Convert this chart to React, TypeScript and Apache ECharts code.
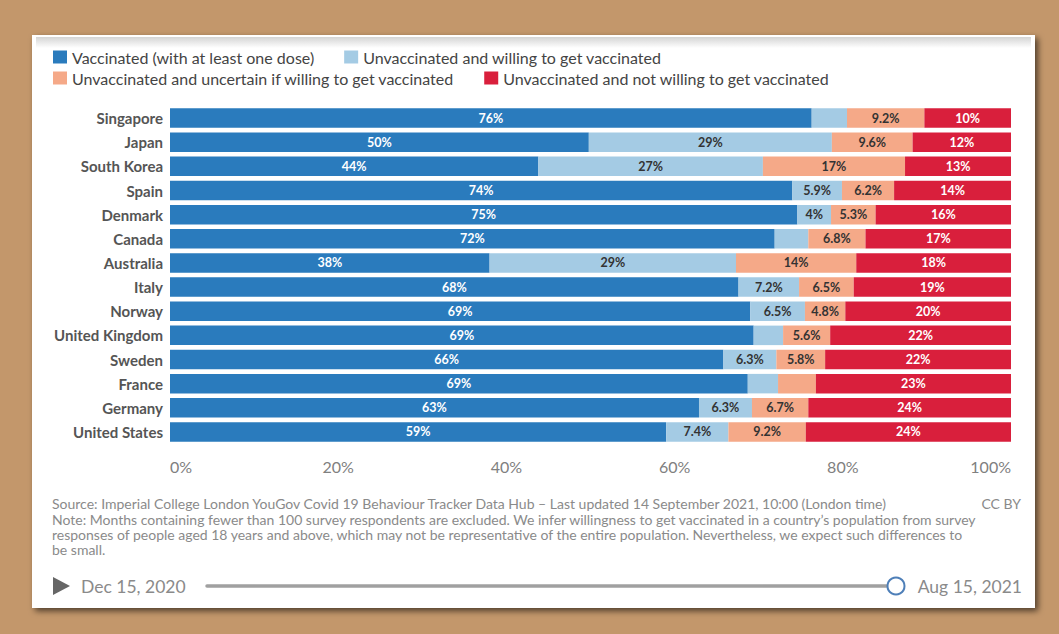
import React, { useEffect, useRef } from "react";
import * as echarts from "echarts";

const countries = [
  "Singapore", "Japan", "South Korea", "Spain", "Denmark", "Canada", "Australia",
  "Italy", "Norway", "United Kingdom", "Sweden", "France", "Germany", "United States",
];
const seriesNames = [
  "Vaccinated (with at least one dose)",
  "Unvaccinated and willing to get vaccinated",
  "Unvaccinated and uncertain if willing to get vaccinated",
  "Unvaccinated and not willing to get vaccinated",
];
const vaccinated = [76.3, 49.8, 43.8, 74.0, 74.6, 71.9, 38.0, 67.6, 69.0, 69.4, 65.8, 68.7, 62.9, 59.0];
const willing = [4.2, 28.9, 26.7, 5.9, 4.0, 4.0, 29.3, 7.2, 6.5, 3.5, 6.3, 3.6, 6.3, 7.4];
const uncertain = [9.2, 9.6, 16.9, 6.2, 5.3, 6.8, 14.3, 6.5, 4.8, 5.6, 5.8, 4.5, 6.7, 9.2];
const notWilling = [10.3, 11.7, 12.6, 13.9, 16.1, 17.3, 18.4, 18.7, 19.7, 21.5, 22.1, 23.2, 24.1, 24.4];
const xTicks = [0, 20, 40, 60, 80, 100];
// labels not drawn in the reference (series index : country)
const hiddenLabels = ["1:Singapore", "1:Canada", "1:United Kingdom", "1:France", "2:France"];

const sourceText =
  "Source: Imperial College London YouGov Covid 19 Behaviour Tracker Data Hub \u2013 Last updated 14 September 2021, 10:00 (London time)";
const noteLines = [
  "Note: Months containing fewer than 100 survey respondents are excluded. We infer willingness to get vaccinated in a country\u2019s population from survey",
  "responses of people aged 18 years and above, which may not be representative of the entire population. Nevertheless, we expect such differences to",
  "be small.",
];
const startDate = "Dec 15, 2020";
const endDate = "Aug 15, 2021";

const colors = ["#2a7bbd", "#a4cbe4", "#f5a988", "#d91f3c"];
const labelColors = ["#ffffff", "#333333", "#333333", "#ffffff"];

const FONT = "Lato, 'Noto Sans', sans-serif";

function fmt(v: number): string {
  if (v >= 9.95) return Math.round(v) + "%";
  return Math.round(v * 10) / 10 + "%";
}

export default function App() {
  const ref = useRef<HTMLDivElement>(null);
  useEffect(() => {
    document.body.style.margin = "0";
    if (!ref.current) return;
    const chart = echarts.init(ref.current, null, { renderer: "svg" });
    const all = [vaccinated, willing, uncertain, notWilling];
    const series = all.map((arr, si) => ({
      name: seriesNames[si],
      type: "bar",
      stack: "total",
      barWidth: 19.5,
      itemStyle: { color: colors[si] },
      label: {
        show: true,
        position: "inside",
        color: labelColors[si],
        fontFamily: FONT,
        fontSize: 12.5,
        fontWeight: "bold",
        formatter: (p: any) => fmt(p.value),
      },
      data: arr.map((v, i) =>
        hiddenLabels.includes(si + ":" + countries[i])
          ? { value: v, label: { show: false } }
          : v
      ),
    }));

    const legendCommon = {
      icon: "rect",
      itemWidth: 14,
      itemHeight: 13,
      itemGap: 30,
      padding: 0,
      textStyle: { fontFamily: FONT, fontSize: 16, color: "#444" },
      selectedMode: false,
    };

    chart.setOption({
      animation: false,
      backgroundColor: "#c3976b",
      color: colors,
      graphic: [
        {
          type: "rect",
          z: -10,
          shape: { x: 32, y: 35, width: 1003, height: 573 },
          style: {
            fill: "#ffffff",
            shadowBlur: 6,
            shadowOffsetX: 3,
            shadowOffsetY: 3,
            shadowColor: "rgba(0,0,0,0.6)",
          },
        },
        {
          type: "rect",
          z: -9,
          shape: { x: 36, y: 37, width: 995, height: 11 },
          style: {
            fill: new echarts.graphic.LinearGradient(0, 0, 0, 1, [
              { offset: 0, color: "#d4d4d4" },
              { offset: 1, color: "#ffffff" },
            ]),
          },
        },
        {
          type: "text",
          x: 52,
          y: 503,
          style: { text: sourceText, font: `14px ${FONT}`, fill: "#8a8a8a", verticalAlign: "middle" },
        },
        {
          type: "text",
          x: 1021,
          y: 503,
          style: { text: "CC BY", font: `14px ${FONT}`, fill: "#8a8a8a", align: "right", verticalAlign: "middle" },
        },
        ...noteLines.map((t, i) => ({
          type: "text",
          x: 52,
          y: 519 + i * 15,
          style: { text: t, font: `14px ${FONT}`, fill: "#8a8a8a", verticalAlign: "middle" },
        })),
        {
          type: "polygon",
          shape: { points: [[53, 577], [53, 595], [70, 586]] },
          style: { fill: "#666666" },
        },
        {
          type: "text",
          x: 81,
          y: 586,
          style: { text: startDate, font: `17.5px ${FONT}`, fill: "#8a8a8a", verticalAlign: "middle" },
        },
        {
          type: "line",
          shape: { x1: 207, y1: 586, x2: 888, y2: 586 },
          style: { stroke: "#a0a0a0", lineWidth: 3.5, lineCap: "round" },
        },
        {
          type: "circle",
          shape: { cx: 896, cy: 586, r: 8.5 },
          style: { fill: "#ffffff", stroke: "#4e7fb8", lineWidth: 2 },
        },
        {
          type: "text",
          x: 1022,
          y: 586,
          style: { text: endDate, font: `17.5px ${FONT}`, fill: "#8a8a8a", align: "right", verticalAlign: "middle" },
        },
      ],
      legend: [
        { ...legendCommon, left: 53, top: 49, data: [seriesNames[0], seriesNames[1]] },
        { ...legendCommon, left: 53, top: 70, data: [seriesNames[2], seriesNames[3]] },
      ],
      grid: { left: 170, right: 48, top: 106, height: 338 },
      xAxis: {
        type: "value",
        min: xTicks[0],
        max: xTicks[xTicks.length - 1],
        interval: xTicks[1] - xTicks[0],
        axisLine: { show: false },
        axisTick: { show: false },
        splitLine: { show: false },
        axisLabel: {
          formatter: "{value}%",
          fontFamily: FONT,
          fontSize: 16,
          color: "#808080",
          margin: 14,
          alignMinLabel: "left",
          alignMaxLabel: "right",
        },
      },
      yAxis: {
        type: "category",
        data: countries,
        inverse: true,
        axisLine: { show: false },
        axisTick: { show: false },
        axisLabel: {
          fontFamily: FONT,
          fontSize: 15,
          fontWeight: "bold",
          color: "#555",
          margin: 7,
        },
      },
      series,
    });
    return () => chart.dispose();
  }, []);
  return (
    <div
      ref={ref}
      style={{ position: "absolute", left: 0, top: 0, width: 1059, height: 634 }}
    />
  );
}
